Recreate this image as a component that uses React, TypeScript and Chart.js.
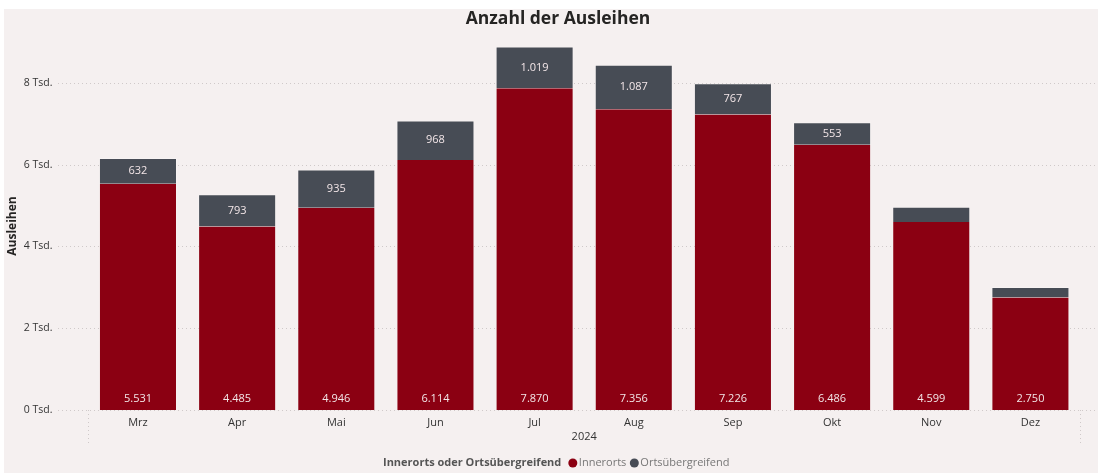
import { useEffect, useRef } from "react";
import { Chart, registerables } from "chart.js";

Chart.register(...registerables);

const months = ["Mrz", "Apr", "Mai", "Jun", "Jul", "Aug", "Sep", "Okt", "Nov", "Dez"];
const innerorts = [5531, 4485, 4946, 6114, 7870, 7356, 7226, 6486, 4599, 2750];
const ortsuebergreifend = [632, 793, 935, 968, 1019, 1087, 767, 553, 370, 260];
const yTickValues = [0, 2000, 4000, 6000, 8000];
const chartTitle = "Anzahl der Ausleihen";
const yTitle = "Ausleihen";
const xTitle = "2024";
const legendTitle = "Innerorts oder Ortsübergreifend";
const seriesNames = ["Innerorts", "Ortsübergreifend"];

const RED = "#8B0012";
const GRAY = "#474C55";
const BG = "#F5F0F0";
const FONT = "'Open Sans', 'Noto Sans', sans-serif";

const fmt = (v: number) => String(Math.round(v)).replace(/\B(?=(\d{3})+(?!\d))/g, ".");

const gridPlugin = {
  id: "pbiGrid",
  beforeDatasetsDraw(chart: any) {
    const { ctx, chartArea, scales, width } = chart;
    const y = scales.y;
    ctx.save();
    ctx.strokeStyle = "#CFC9C9";
    ctx.lineWidth = 1;
    ctx.setLineDash([1, 3]);
    yTickValues.forEach((v) => {
      const py = Math.round(y.getPixelForValue(v)) + 0.5;
      ctx.beginPath();
      ctx.moveTo(54, py);
      ctx.lineTo(width, py);
      ctx.stroke();
    });
    [chartArea.left, chartArea.right].forEach((x: number) => {
      const px = Math.round(x) + 0.5;
      ctx.beginPath();
      ctx.moveTo(px, chartArea.bottom);
      ctx.lineTo(px, chartArea.bottom + 35);
      ctx.stroke();
    });
    ctx.restore();
  },
};

const labelPlugin = {
  id: "pbiLabels",
  afterDatasetsDraw(chart: any) {
    const { ctx } = chart;
    ctx.save();
    ctx.font = `11px ${FONT}`;
    ctx.fillStyle = "#F3E6E8";
    ctx.textAlign = "center";
    ctx.textBaseline = "middle";
    const m0 = chart.getDatasetMeta(0);
    m0.data.forEach((bar: any, i: number) => {
      ctx.fillText(fmt(innerorts[i]), bar.x, bar.base - 11);
    });
    const m1 = chart.getDatasetMeta(1);
    m1.data.forEach((bar: any, i: number) => {
      const h = Math.abs(bar.base - bar.y);
      if (h >= 20) ctx.fillText(fmt(ortsuebergreifend[i]), bar.x, (bar.base + bar.y) / 2);
    });
    ctx.restore();
  },
};

const titleLegendPlugin = {
  id: "pbiTitleLegend",
  afterDraw(chart: any) {
    const { ctx, width } = chart;
    ctx.save();
    // chart title
    ctx.textAlign = "center";
    ctx.textBaseline = "middle";
    ctx.font = `bold 17.5px ${FONT}`;
    ctx.fillStyle = "#252423";
    ctx.fillText(chartTitle, width / 2 + 7, 10.5);
    // legend
    const y = 454;
    let x = 379;
    ctx.textAlign = "left";
    ctx.font = `bold 11px ${FONT}`;
    ctx.fillStyle = "#555555";
    ctx.fillText(legendTitle, x, y);
    x += ctx.measureText(legendTitle).width + 7;
    const colors = [RED, GRAY];
    ctx.font = `11px ${FONT}`;
    seriesNames.forEach((name, i) => {
      ctx.fillStyle = colors[i];
      ctx.beginPath();
      ctx.arc(x + 4.5, y, 4.5, 0, Math.PI * 2);
      ctx.fill();
      x += 10.5;
      ctx.fillStyle = "#777777";
      ctx.fillText(name, x, y);
      x += ctx.measureText(name).width + 3.5;
    });
    ctx.restore();
  },
};

export default function App() {
  const ref = useRef<HTMLCanvasElement>(null);
  useEffect(() => {
    if (!ref.current) return;
    const chart = new Chart(ref.current, {
      type: "bar",
      data: {
        labels: months,
        datasets: [
          {
            label: seriesNames[0],
            data: innerorts,
            backgroundColor: RED,
            borderColor: "rgba(255,255,255,0.15)",
            borderWidth: { left: 1, right: 1, top: 0, bottom: 0 },
            borderSkipped: false,
          },
          {
            label: seriesNames[1],
            data: ortsuebergreifend,
            backgroundColor: GRAY,
            borderColor: "rgba(255,255,255,0.2)",
            borderWidth: { left: 1, right: 1, top: 1, bottom: 0 },
            borderSkipped: false,
          },
        ],
      },
      options: {
        responsive: false,
        animation: false,
        events: [],
        layout: { padding: { left: 0, right: 18, top: 33, bottom: 24 } },
        datasets: { bar: { categoryPercentage: 0.787, barPercentage: 1 } },
        plugins: {
          legend: { display: false },
          tooltip: { enabled: false },
          title: { display: false },
        },
        scales: {
          x: {
            stacked: true,
            grid: { display: false, drawTicks: false },
            border: { display: false },
            ticks: { color: "#333333", font: { family: FONT, size: 11 }, padding: 6 },
            title: {
              display: true,
              text: xTitle,
              color: "#333333",
              font: { family: FONT, size: 11 },
              padding: { top: 0, bottom: 6 },
            },
            afterFit: (s: any) => {
              s.height = 39;
            },
          },
          y: {
            stacked: true,
            min: 0,
            max: 9000,
            grid: { display: false, drawTicks: false },
            border: { display: false },
            afterBuildTicks: (s: any) => {
              s.ticks = yTickValues.map((v) => ({ value: v }));
            },
            ticks: {
              color: "#333333",
              font: { family: FONT, size: 10.5 },
              padding: 36,
              callback: (v: any) => `${Number(v) / 1000} Tsd.`,
            },
            title: {
              display: true,
              text: yTitle,
              color: "#252423",
              font: { family: FONT, size: 12, weight: "bold" },
              padding: { top: 1.8, bottom: 0 },
            },
            afterFit: (s: any) => {
              s.width = 84.4;
              s.paddingTop = 0;
              s.paddingBottom = 0;
            },
          },
        },
      },
      plugins: [gridPlugin, labelPlugin, titleLegendPlugin],
    });
    return () => chart.destroy();
  }, []);
  return (
    <div
      style={{
        position: "absolute",
        left: 4,
        top: 9,
        width: 1094,
        height: 464,
        background: BG,
      }}
    >
      <canvas ref={ref} width={1094} height={464} style={{ display: "block" }} />
    </div>
  );
}
